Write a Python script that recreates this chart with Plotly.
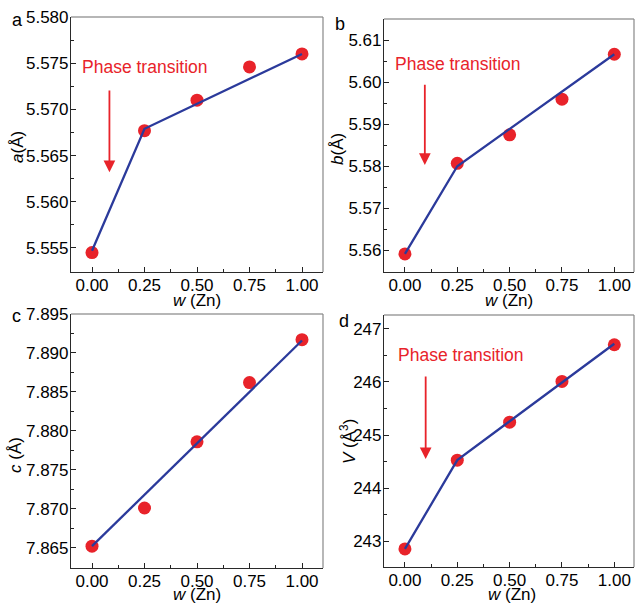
import plotly.graph_objects as go

# ---------------- data ----------------
w = [0.0, 0.25, 0.5, 0.75, 1.0]
a_vals = [5.5545, 5.5677, 5.5710, 5.5746, 5.5760]
b_vals = [5.5591, 5.5807, 5.5875, 5.5960, 5.6067]
c_vals = [7.8652, 7.8701, 7.8786, 7.8862, 7.8917]
V_vals = [242.86, 244.53, 245.245, 246.01, 246.70]

a_fit_w = [0.0, 0.25, 1.0]
a_fit = [5.5547, 5.5679, 5.5760]
b_fit_w = [0.0, 0.25, 1.0]
b_fit = [5.5591, 5.5800, 5.6067]
c_fit_w = [0.0, 1.0]
c_fit = [7.8652, 7.8916]
V_fit_w = [0.0, 0.25, 1.0]
V_fit = [242.86, 244.53, 246.72]

x_ticks = [0.0, 0.25, 0.5, 0.75, 1.0]
x_tick_labels = ["0.00", "0.25", "0.50", "0.75", "1.00"]

RED = "#E8232A"
BLUE = "#2B3A9B"
FONT = "Liberation Sans, Arial, sans-serif"
W, H = 635, 604


def px(x):
    return x / W


def py(y):
    return 1 - y / H


fig = go.Figure()

panels = [
    # (vals, fit_w, fit, xaxis, yaxis, xdom, ydom, xrange, yrange, dtick, fmt)
    (a_vals, a_fit_w, a_fit, "x", "y", [px(71), px(323)], [py(272), py(17)],
     [-0.1, 1.1], [5.5524, 5.580], 0.005, ".3f"),
    (b_vals, b_fit_w, b_fit, "x2", "y2", [px(384), px(634)], [py(272), py(19)],
     [-0.1, 1.094], [5.5548, 5.6151], 0.01, ".2f"),
    (c_vals, c_fit_w, c_fit, "x3", "y3", [px(71), px(323)], [py(568), py(314)],
     [-0.1, 1.1], [7.8624, 7.895], 0.005, ".3f"),
    (V_vals, V_fit_w, V_fit, "x4", "y4", [px(384), px(634)], [py(567), py(315)],
     [-0.1, 1.094], [242.52, 247.26], 1, "d"),
]

layout_axes = {}
shapes = []
for i, (vals, fw, fv, xa, ya, xdom, ydom, xr, yr, dt, fmt) in enumerate(panels):
    fig.add_trace(go.Scatter(x=w, y=vals, xaxis=xa, yaxis=ya, mode="markers",
                             marker=dict(color=RED, size=13, line=dict(width=0)),
                             showlegend=False, cliponaxis=False))
    fig.add_trace(go.Scatter(x=fw, y=fv, xaxis=xa, yaxis=ya, mode="lines",
                             line=dict(color=BLUE, width=2.3), showlegend=False))
    n = "" if i == 0 else str(i + 1)
    layout_axes["xaxis" + n] = dict(
        domain=xdom, range=xr, anchor=ya, tickvals=x_ticks, ticktext=x_tick_labels,
        ticks="inside", ticklen=5, tickwidth=1, tickcolor="#222",
        minor=dict(ticks="inside", ticklen=3, dtick=0.125, tick0=0, tickcolor="#222"),
        showline=True, linecolor="#2a2a2a", linewidth=1.2, mirror=False,
        showgrid=False, zeroline=False, automargin=False, ticklabelstandoff=-3,
        tickfont=dict(size=17, color="black", family=FONT),
    )
    layout_axes["yaxis" + n] = dict(
        domain=ydom, range=yr, anchor=xa, dtick=dt, tick0=0, tickformat=fmt,
        ticks="inside", ticklen=5, tickwidth=1, tickcolor="#222",
        minor=dict(ticks="inside", ticklen=3, dtick=dt / 2, tick0=0, tickcolor="#222"),
        showline=True, linecolor="#2a2a2a", linewidth=1.2, mirror=False,
        showgrid=False, zeroline=False, automargin=False, ticklabelstandoff=-2,
        tickfont=dict(size=17, color="black", family=FONT),
    )
    # lighter top and right frame lines
    shapes.append(dict(type="line", xref="paper", yref="paper",
                       x0=xdom[0], x1=xdom[1], y0=ydom[1], y1=ydom[1],
                       line=dict(color="#6e6e6e", width=1.2)))
    shapes.append(dict(type="line", xref="paper", yref="paper",
                       x0=xdom[1], x1=xdom[1], y0=ydom[0], y1=ydom[1],
                       line=dict(color="#888888", width=1.2)))

fig.update_layout(**layout_axes)

annotations = []
# panel letters
for t, x, y in [("a", 17, 20), ("b", 340, 24), ("c", 16, 316), ("d", 344, 321)]:
    annotations.append(dict(text=t, x=px(x), y=py(y), xref="paper", yref="paper",
                            showarrow=False, xanchor="center", yanchor="middle",
                            font=dict(size=18, color="black", family=FONT)))
# y-axis titles
for t, x, y in [("<i>a</i>(Å)", 18, 147), ("<i>b</i>(Å)", 337, 149),
                ("<i>c</i> (Å)", 15, 455), ("<i>V</i> (Å<sup>3</sup>)", 348, 442)]:
    annotations.append(dict(text=t, x=px(x), y=py(y), xref="paper", yref="paper",
                            showarrow=False, textangle=-90, xanchor="center", yanchor="middle",
                            font=dict(size=17, color="black", family=FONT)))
# x-axis titles
for x, y in [(197, 300), (509, 300), (197, 594), (512, 594)]:
    annotations.append(dict(text="<i>w</i> (Zn)", x=px(x), y=py(y), xref="paper", yref="paper",
                            showarrow=False, xanchor="center", yanchor="middle",
                            font=dict(size=17, color="black", family=FONT)))
# phase transition text
for x, y in [(145, 67), (458, 64), (461, 355)]:
    annotations.append(dict(text="Phase transition", x=px(x), y=py(y), xref="paper", yref="paper",
                            showarrow=False, xanchor="center", yanchor="middle",
                            font=dict(size=17.5, color=RED, family=FONT)))
# arrows (data coords)
for xa, ya, x, y0, y1 in [("x", "y", 0.083, 5.5722, 5.5632),
                          ("x2", "y2", 0.095, 5.5998, 5.5803),
                          ("x4", "y4", 0.099, 246.13, 244.55)]:
    annotations.append(dict(x=x, y=y1, ax=x, ay=y0, xref=xa, yref=ya, axref=xa, ayref=ya,
                            text="", showarrow=True, arrowhead=2, arrowsize=1.3,
                            arrowwidth=1.8, arrowcolor=RED))

fig.update_layout(
    width=W, height=H, margin=dict(l=0, r=0, t=0, b=0),
    paper_bgcolor="white", plot_bgcolor="white",
    font=dict(family=FONT, size=17, color="black"),
    annotations=annotations, shapes=shapes, showlegend=False,
)

fig.write_html("out.html", config={"displayModeBar": False},
               post_script="document.body.style.margin='0px';document.body.style.padding='0px';")
